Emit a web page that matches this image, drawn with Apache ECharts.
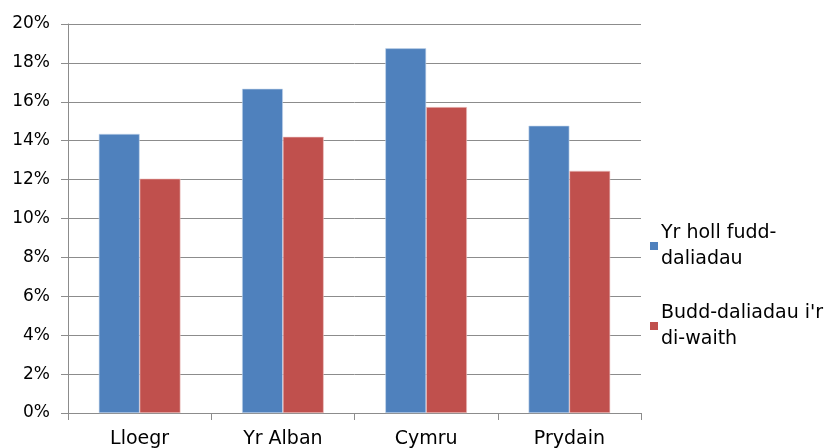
<!DOCTYPE html>
<html><head><meta charset="utf-8">
<script src="https://cdn.jsdelivr.net/npm/echarts@6/dist/echarts.min.js"></script>
<style>html,body{margin:0;padding:0;background:#fff}#c{width:835px;height:448px}</style>
</head><body><div id="c"></div>
<script>
const categories = ['Lloegr', 'Yr Alban', 'Cymru', 'Prydain'];
const allBenefits = [14.35, 16.67, 18.75, 14.77];
const unemploymentBenefits = [12.05, 14.2, 15.73, 12.45];
const seriesNames = ['Yr holl fudd-daliadau', "Budd-daliadau i'r di-waith"];
const legendLabels = {'Yr holl fudd-daliadau': 'Yr holl fudd-\ndaliadau', "Budd-daliadau i'r di-waith": "Budd-daliadau i'r\ndi-waith"};
const font = 'DejaVu Sans';
const chart = echarts.init(document.getElementById('c'), null, {renderer: 'canvas'});
chart.setOption({
  animation: false,
  textStyle: {fontFamily: font},
  grid: {left: 68, right: 194, top: 24, bottom: 35, containLabel: false, outerBoundsMode: 'none'},
  legend: {
    orient: 'vertical', left: 645, top: 215,
    itemWidth: 8, itemHeight: 8, itemGap: 28, icon: 'rect',
    itemStyle: {borderWidth: 0},
    formatter: n => legendLabels[n],
    textStyle: {fontFamily: font, fontSize: 19, color: '#000', lineHeight: 26, padding: [0,0,0,-2]},
    data: seriesNames
  },
  xAxis: {
    type: 'category', data: categories,
    axisLine: {lineStyle: {color: '#8c8c8c', width: 1}},
    axisTick: {show: true, length: 7, lineStyle: {color: '#8c8c8c'}},
    axisLabel: {fontFamily: font, fontSize: 19, color: '#000', margin: 17}
  },
  yAxis: {
    type: 'value', min: 0, max: 20, interval: 2,
    axisLine: {show: true, lineStyle: {color: '#8c8c8c'}},
    axisTick: {show: true, length: 7, lineStyle: {color: '#8c8c8c'}},
    splitLine: {lineStyle: {color: '#8c8c8c'}},
    axisLabel: {formatter: '{value}%', fontFamily: font, fontSize: 17, color: '#000', margin: 18}
  },
  series: [
    {name: seriesNames[0], type: 'bar', data: allBenefits, barGap: '0%', barCategoryGap: '43%',
     itemStyle: {color: '#4F81BD', borderColor: '#c8d8ec', borderWidth: 0.6}},
    {name: seriesNames[1], type: 'bar', data: unemploymentBenefits, barGap: '0%', barCategoryGap: '43%',
     itemStyle: {color: '#C0504D', borderColor: '#ecc8c7', borderWidth: 0.6}}
  ]
});
</script></body></html>
